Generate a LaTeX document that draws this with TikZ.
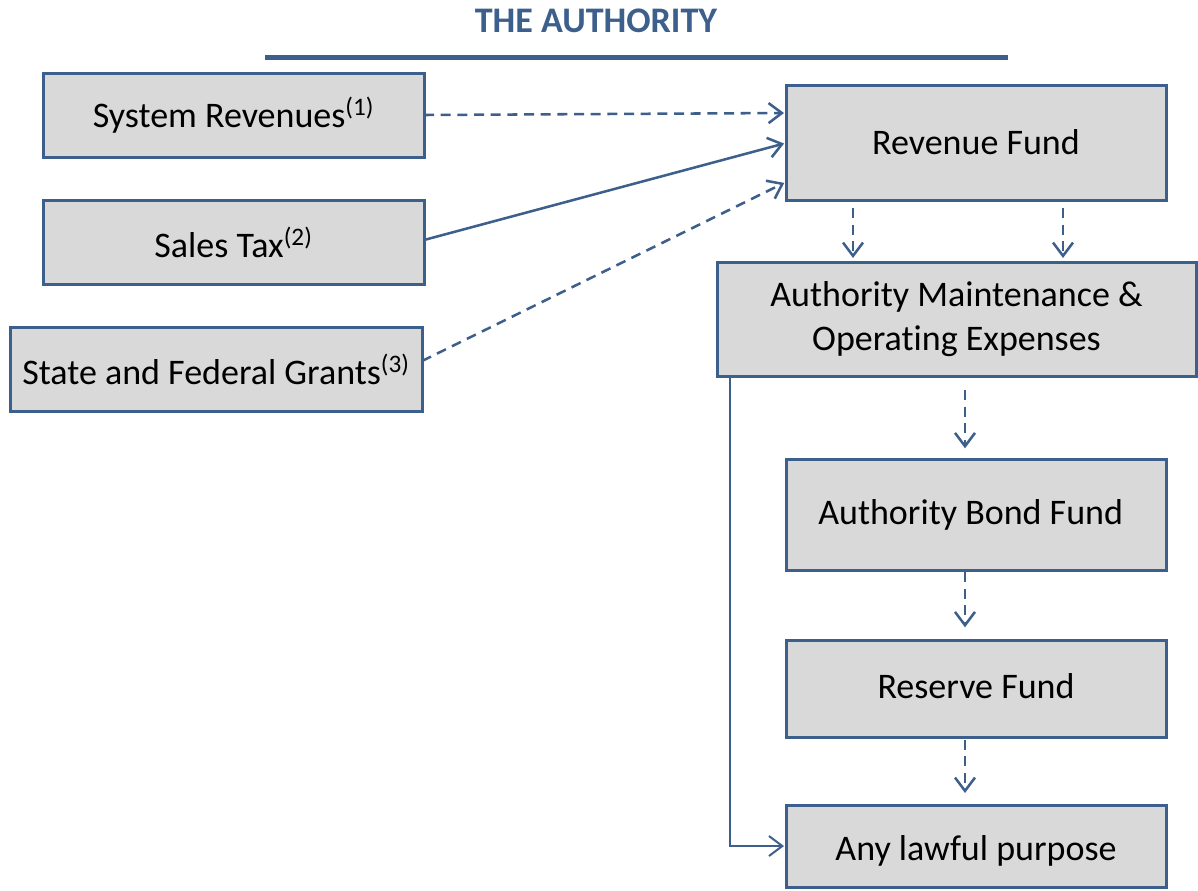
\documentclass[tikz,border=0pt]{standalone}
\usepackage{fontspec}
\setmainfont[Ligatures=NoCommon]{Carlito}
\usetikzlibrary{arrows.meta,calc}
\definecolor{lineblue}{HTML}{3D5F8C}
\definecolor{boxgray}{HTML}{D9D9D9}
\begin{document}
\begin{tikzpicture}[x=0.75pt,y=-0.75pt,
  fundbox/.style={draw=lineblue,fill=boxgray,line width=2.25pt,inner sep=0pt,outer sep=0pt,
    align=center,font=\fontsize{27}{33}\selectfont},
  tip/.style={-{Straight Barb[length=10pt,width=15pt]}},
  dflow/.style={tip,draw=lineblue,line width=1.9pt,dash pattern=on 7.5pt off 5pt},
  sflow/.style={tip,draw=lineblue,line width=1.9pt},
  lflow/.style={tip,draw=lineblue,line width=1.5pt}]
\useasboundingbox (0,0) rectangle (1198,890);
\node[font=\fontsize{27}{32}\selectfont\bfseries,text=lineblue] (title) at (596,21) {THE AUTHORITY};
\draw[lineblue,line width=3.75pt] (265,57) -- (1008,57);

\node[fundbox,minimum width=285.75pt,minimum height=63pt] (sr) at (233.5,115) {System Revenues\textsuperscript{(1)}};
\node[fundbox,minimum width=285.75pt,minimum height=63pt] (st) at (233.5,242) {Sales Tax\textsuperscript{(2)}};
\node[fundbox,minimum width=309pt,minimum height=63pt] (gr) at (216,369) {State and Federal Grants\textsuperscript{(3)}};
\node[fundbox,minimum width=285pt,minimum height=86.25pt,text height=21pt,text depth=3pt] (rf) at (976,142.5) {Revenue Fund};
\node[fundbox,minimum width=359.25pt,minimum height=85.5pt] (am) at (956.5,319) {Authority Maintenance \&\\Operating Expenses};
\node[fundbox,minimum width=285pt,minimum height=83.25pt] (bf) at (976,514.5) {\hspace*{-8pt}Authority Bond Fund};
\node[fundbox,minimum width=285pt,minimum height=72.75pt,text height=19pt,text depth=4.4pt] (rs) at (976,688.5) {Reserve Fund};
\node[fundbox,minimum width=285pt,minimum height=61.5pt,text height=24pt,text depth=3pt] (an) at (976,846) {Any lawful purpose};

\draw[dflow,shorten >=1.5pt] ($(sr.east)+(0,0)$) -- ($(rf.west)+(0,-29.5)$);
\draw[sflow,shorten >=1.5pt] ($(st.east)+(0,-2)$) -- ($(rf.west)+(0,0.5)$);
\draw[dflow,shorten >=1.5pt] ($(gr.east)+(0,-8)$) -- ($(rf.west)+(0,39.5)$);

\coordinate (c1) at ($(rf.south)+(-123,0)$);
\coordinate (c2) at ($(rf.south)+(87,0)$);
\draw[dflow,shorten <=6pt,shorten >=3pt] (c1) -- (c1 |- am.north);
\draw[dflow,shorten <=6pt,shorten >=3pt] (c2) -- (c2 |- am.north);

\coordinate (vx) at (965,0);
\draw[dflow,shorten <=10.5pt,shorten >=8pt] (vx |- am.south) -- (vx |- bf.north);
\draw[dflow,shorten <=1.5pt,shorten >=9.5pt] (vx |- bf.south) -- (vx |- rs.north);
\draw[dflow,shorten <=2pt,shorten >=9pt] (vx |- rs.south) -- (vx |- an.north);

\coordinate (lx) at ($(am.south west)+(13,0)$);
\draw[lflow,shorten >=1.5pt] (lx) |- (an.west);
\end{tikzpicture}
\end{document}
